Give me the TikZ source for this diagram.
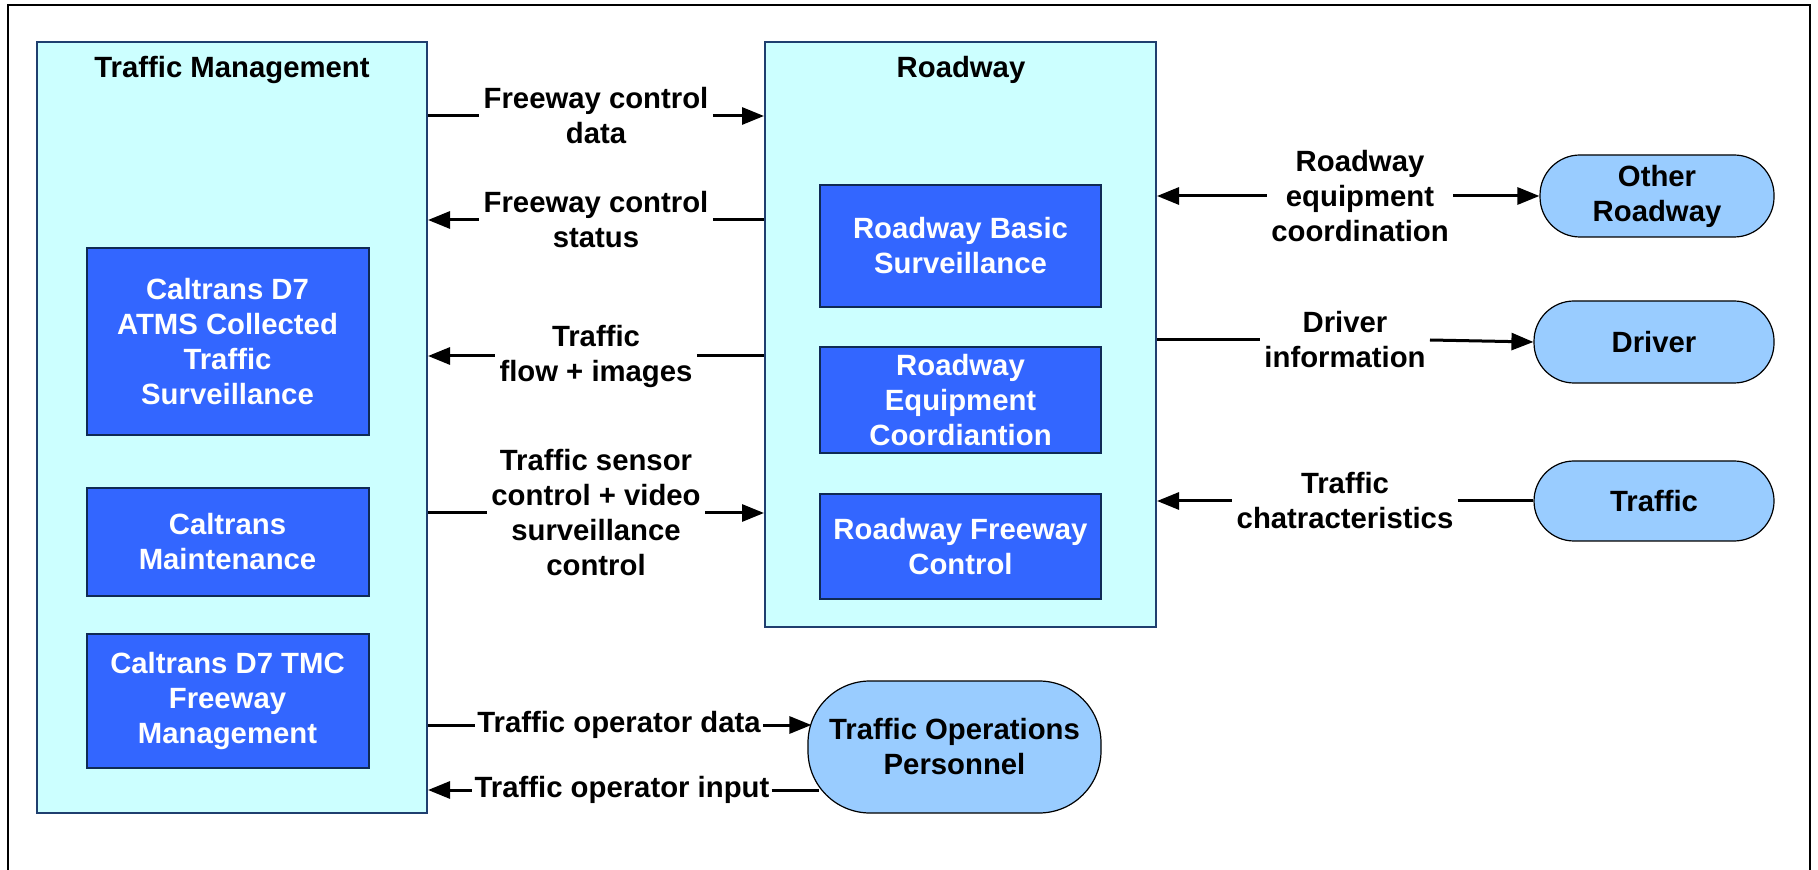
\documentclass[tikz,border=0pt]{standalone}
\usepackage{fontspec}
\setmainfont{Liberation Sans}
\usetikzlibrary{arrows.meta}
\definecolor{paleCyan}{HTML}{CCFFFF}
\definecolor{boxBlue}{HTML}{3366FF}
\definecolor{lightBlue}{HTML}{99CCFF}
\definecolor{navyEdge}{HTML}{1F3F6F}
\definecolor{darkEdge}{HTML}{0F2A55}
\tikzset{
  txt/.style={font=\bfseries\fontsize{14.65pt}{17.5pt}\selectfont, align=center},
  bigbox/.style={draw=navyEdge, line width=1pt, fill=paleCyan, inner sep=0pt},
  subbox/.style={draw=darkEdge, line width=1pt, fill=boxBlue, text=white, txt, inner sep=0pt,
                 minimum width=141pt},
  term/.style={draw=black, line width=0.6pt, fill=lightBlue, txt, inner sep=0pt},
  lbl/.style={txt, inner sep=2pt},
  flow/.style={line width=1.5pt, -{Triangle[length=11pt,width=8.5pt]}},
  flowback/.style={line width=1.5pt, {Triangle[length=11pt,width=8.5pt]}-},
  plain/.style={line width=1.5pt},
  frameline/.style={line width=1pt, draw=black}
}
\begin{document}
\begin{tikzpicture}[x=0.5pt,y=-0.5pt]
\useasboundingbox (0,0) rectangle (1818,870);
% outer frame (open at the bottom)
\draw[frameline] (8,870) -- (8,5) -- (1810,5) -- (1810,870);

% Traffic Management
\node[bigbox, minimum width=195pt, minimum height=385.5pt] (TM) at (232,427.5) {};
\node[txt] (TMt) at (232,70) {Traffic Management};
\node[subbox, minimum height=93.5pt] (ATMS) at (227.5,341.5) {Caltrans D7\\ATMS Collected\\Traffic\\Surveillance};
\node[subbox, minimum height=54pt] (MAINT) at (227.5,542) {Caltrans\\Maintenance};
\node[subbox, minimum height=67pt] (TMC) at (227.5,701) {Caltrans D7 TMC\\Freeway\\Management};

% Roadway
\node[bigbox, minimum width=195.5pt, minimum height=292.5pt] (RW) at (960.5,334.5) {};
\node[txt] (RWt) at (961,70) {Roadway};
\node[subbox, minimum width=140.5pt, minimum height=61pt] (RBS) at (960.5,246) {Roadway Basic\\Surveillance};
\node[subbox, minimum width=140.5pt, minimum height=53pt] (REC) at (960.5,400) {Roadway\\Equipment\\Coordiantion};
\node[subbox, minimum width=140.5pt, minimum height=52.5pt] (RFC) at (960.5,546.5) {Roadway Freeway\\Control};

% terminators
\node[term, minimum width=146.5pt, minimum height=66pt, rounded corners=31pt] (TOP) at (954.5,747) {Traffic Operations\\Personnel};
\node[term, minimum width=117pt, minimum height=41pt, rounded corners=20pt] (OR) at (1657,196) {Other\\Roadway};
\node[term, minimum width=120pt, minimum height=41pt, rounded corners=20pt] (DRV) at (1654,342) {Driver};
\node[term, minimum width=120pt, minimum height=40pt, rounded corners=20pt] (TRF) at (1654,501) {Traffic};

% labels between TM and Roadway
\node[lbl] (L1) at (596,116) {Freeway control\\data};
\node[lbl] (L2) at (596,220) {Freeway control\\status};
\node[lbl] (L3) at (596,356) {Traffic\\flow + images};
\node[lbl] (L4) at (596,513) {Traffic sensor\\control + video\\surveillance\\control};
\node[lbl, inner sep=1pt] (L5) at (619,725) {Traffic operator data};
\node[lbl, inner sep=1pt] (L6) at (622,790) {Traffic operator input};

% labels on the right
\node[lbl] (R1) at (1360,196) {Roadway\\equipment\\coordination};
\node[lbl] (R2) at (1345,340) {Driver\\information};
\node[lbl] (R3) at (1345,501) {Traffic\\chatracteristics};

% connectors TM <-> Roadway
\draw[plain] (TM.east |- L1) -- (L1.west);
\draw[flow] (L1.east) -- (RW.west |- L1);
\draw[flowback] (TM.east |- L2) -- (L2.west);
\draw[plain] (L2.east) -- (RW.west |- L2);
\draw[flowback] (TM.east |- L3) -- (L3.west);
\draw[plain] (L3.east) -- (RW.west |- L3);
\draw[plain] (TM.east |- L4) -- (L4.west);
\draw[flow] (L4.east) -- (RW.west |- L4);

% TM <-> Traffic Operations Personnel
\draw[plain] (TM.east |- L5) -- (L5.west);
\draw[flow] (L5.east) -- ([xshift=2pt]TOP.west |- L5);
\draw[flowback] (TM.east |- L6) -- (L6.west);
\draw[plain] (L6.east) -- ([xshift=6pt]TOP.west |- L6);

% Roadway <-> right terminators
\draw[flowback] (RW.east |- R1) -- (R1.west);
\draw[flow] (R1.east) -- (OR.west);
\draw[plain] (RW.east |- R2) -- (R2.west);
\draw[flow] (R2.east) -- (DRV.west);
\draw[flowback] (RW.east |- R3) -- (R3.west);
\draw[plain] (R3.east) -- (TRF.west);
\end{tikzpicture}
\end{document}
